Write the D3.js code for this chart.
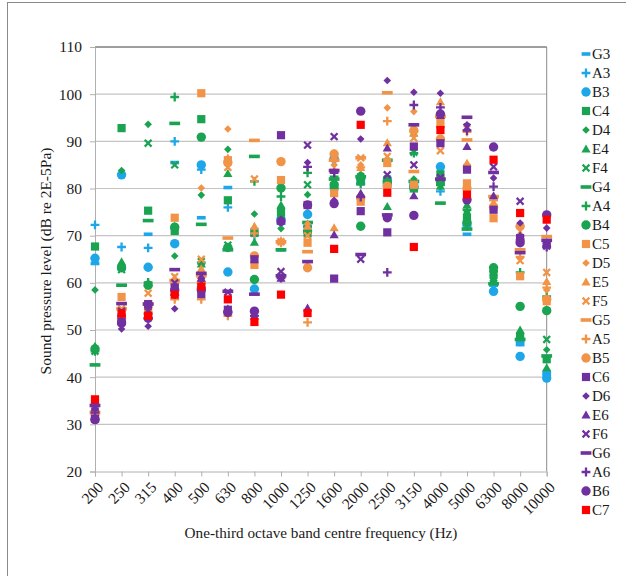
<!DOCTYPE html>
<html>
<head>
<meta charset="utf-8">
<script src="https://cdn.jsdelivr.net/npm/d3@7"></script>
<style>
body { margin: 0; background: #fff; }
</style>
</head>
<body>
<svg id="chart" width="626" height="576"></svg>
<script>
// one-third octave bands (Hz)
var categories = ["200", "250", "315", "400", "500", "630", "800", "1000", "1250", "1600",
                  "2000", "2500", "3150", "4000", "5000", "6300", "8000", "10000"];
var yTicks = [20, 30, 40, 50, 60, 70, 80, 90, 100, 110];

var noteNames = ["G3", "A3", "B3", "C4", "D4", "E4", "F4", "G4", "A4", "B4", "C5", "D5", "E5",
                 "F5", "G5", "A5", "B5", "C6", "D6", "E6", "F6", "G6", "A6", "B6", "C7"];
var noteShapes = ["dash", "plus", "circle", "square", "diamond", "triangle", "x", "longdash",
                  "plus", "circle", "square", "diamond", "triangle", "x", "longdash", "plus",
                  "circle", "square", "diamond", "triangle", "x", "longdash", "plus", "circle", "square"];
var noteColours = ["#1ea7e8", "#1ea7e8", "#1ea7e8",
                   "#1aa350", "#1aa350", "#1aa350", "#1aa350", "#1aa350", "#1aa350", "#1aa350",
                   "#f29447", "#f29447", "#f29447", "#f29447", "#f29447", "#f29447", "#f29447",
                   "#7030a0", "#7030a0", "#7030a0", "#7030a0", "#7030a0", "#7030a0", "#7030a0",
                   "#ff0000"];

// sound pressure level (dB re 2E-5 Pa), one value per band
var G3 = [64.1, 63.0, 70.3, 85.5, 73.8, 80.2, 70.5, 67.0, 72.0, 80.0, 81.0, 82.0, 80.0, 81.0, 70.3, 59.5, 46.9, 41.0];
var A3 = [72.3, 67.6, 67.4, 90.0, 84.0, 76.0, 70.0, 72.5, 72.0, 82.0, 82.0, 81.5, 81.0, 79.4, 72.0, 60.0, 47.5, 40.5];
var B3 = [65.2, 82.9, 63.3, 68.3, 85.0, 62.3, 58.7, 73.5, 74.5, 86.4, 82.0, 81.0, 80.5, 84.6, 72.5, 58.2, 44.4, 39.8];
var C4 = [67.7, 92.8, 75.3, 71.0, 94.7, 77.5, 70.8, 75.0, 70.5, 80.5, 81.5, 81.5, 80.0, 83.0, 73.8, 61.7, 48.5, 43.8];
var D4 = [58.5, 83.8, 93.6, 65.7, 78.6, 88.3, 74.6, 71.5, 78.7, 87.5, 83.0, 82.5, 82.0, 81.0, 75.0, 60.8, 49.2, 45.8];
var E4 = [46.6, 64.5, 60.0, 72.0, 64.0, 83.2, 68.6, 76.5, 72.5, 81.0, 82.0, 76.2, 91.8, 80.5, 76.5, 60.5, 50.0, 42.0];
var F4 = [45.5, 62.8, 89.6, 85.0, 64.5, 68.0, 70.5, 74.5, 80.8, 81.5, 82.5, 82.0, 87.7, 82.0, 74.0, 61.0, 48.8, 48.0];
var G4 = [42.6, 59.5, 73.2, 93.8, 72.4, 67.0, 86.8, 67.0, 72.8, 82.0, 82.5, 86.0, 81.5, 76.9, 71.4, 59.8, 48.0, 44.5];
var A4 = [45.5, 63.5, 60.1, 99.4, 64.3, 67.5, 81.5, 78.3, 83.3, 82.5, 81.0, 80.5, 87.5, 80.7, 75.5, 62.5, 62.2, 57.1];
var B4 = [46.0, 63.2, 59.5, 71.8, 90.9, 67.5, 60.7, 80.1, 71.0, 80.8, 72.0, 81.5, 80.2, 81.5, 72.8, 63.2, 55.0, 54.1];
var C5 = [34.0, 57.0, 54.5, 73.8, 100.2, 86.0, 63.8, 81.8, 68.5, 79.0, 77.2, 85.4, 80.8, 94.0, 81.1, 73.7, 61.4, 56.1];
var D5 = [33.0, 52.5, 55.0, 59.5, 80.1, 92.6, 65.5, 68.5, 72.5, 85.0, 85.0, 97.1, 96.3, 96.0, 93.2, 78.3, 71.5, 58.5];
var E5 = [33.5, 54.0, 55.5, 61.0, 63.0, 86.5, 72.0, 69.0, 72.0, 71.7, 84.5, 89.7, 93.0, 98.4, 85.4, 77.0, 70.5, 60.3];
var F5 = [33.0, 54.5, 57.8, 61.3, 65.0, 84.5, 82.0, 68.7, 70.0, 86.5, 86.5, 86.8, 90.7, 88.0, 84.5, 76.0, 64.7, 62.2];
var G5 = [32.5, 54.5, 55.5, 60.5, 61.5, 69.5, 90.2, 68.7, 66.6, 86.0, 86.5, 100.3, 83.6, 95.3, 90.3, 78.3, 67.0, 69.8];
var A5 = [32.0, 52.0, 53.5, 56.5, 56.5, 53.0, 70.5, 68.5, 51.6, 84.0, 84.5, 94.3, 92.0, 93.0, 92.0, 77.5, 65.5, 59.0];
var B5 = [31.0, 52.5, 53.5, 60.0, 60.0, 85.5, 65.7, 85.7, 63.2, 87.3, 78.0, 80.5, 92.3, 90.5, 80.0, 76.0, 72.0, 56.5];
var C6 = [31.2, 51.8, 55.5, 59.0, 57.6, 54.3, 65.0, 91.3, 76.5, 60.9, 75.2, 70.7, 88.9, 89.6, 84.0, 75.5, 69.5, 68.2];
var D6 = [34.2, 50.2, 50.8, 54.5, 60.5, 54.0, 53.5, 73.5, 85.5, 77.5, 90.5, 102.9, 100.4, 100.2, 93.5, 82.2, 72.7, 71.6];
var E6 = [33.5, 53.5, 54.0, 58.0, 61.0, 54.5, 53.0, 61.0, 54.7, 70.2, 79.0, 88.6, 78.5, 95.5, 88.9, 78.5, 70.0, 68.5];
var F6 = [33.8, 54.0, 55.0, 60.0, 61.5, 58.0, 53.5, 62.4, 89.2, 91.0, 65.0, 82.9, 85.0, 82.3, 93.0, 84.6, 77.3, 67.8];
var G6 = [34.0, 55.6, 55.5, 62.8, 62.0, 58.2, 57.6, 61.5, 64.5, 83.8, 66.0, 74.4, 93.5, 82.0, 95.1, 83.4, 66.4, 69.0];
var A6 = [32.5, 53.0, 52.5, 57.5, 59.0, 54.0, 53.0, 61.0, 84.6, 83.3, 78.2, 62.2, 97.7, 97.2, 92.3, 80.4, 69.0, 67.6];
var B6 = [31.0, 51.5, 52.5, 58.5, 58.5, 53.7, 54.0, 73.0, 76.5, 76.8, 96.4, 73.8, 74.3, 95.8, 77.6, 88.8, 68.5, 74.4];
var C7 = [35.3, 53.5, 53.0, 57.5, 59.2, 56.5, 51.7, 57.5, 53.6, 67.2, 93.5, 79.1, 67.6, 92.4, 78.7, 86.1, 74.8, 73.4];

var seriesValues = [G3, A3, B3, C4, D4, E4, F4, G4, A4, B4, C5, D5, E5, F5, G5, A5, B5, C6, D6, E6, F6, G6, A6, B6, C7];

var serif = "'Liberation Serif', 'Times New Roman', 'DejaVu Serif', serif";
var ink = "#1a1a1a";

var svg = d3.select("#chart");

// outer chart frame
svg.append("rect")
    .attr("x", 7.5).attr("y", 2.5)
    .attr("width", 700).attr("height", 700)
    .attr("fill", "none").attr("stroke", "#8a8a8a").attr("stroke-width", 1);

var plotLeft = 95, plotRight = 546.7, plotTop = 47, plotBottom = 471.5;

var x = d3.scalePoint().domain(categories).range([plotLeft, plotRight]);
var y = d3.scaleLinear().domain([20, 110]).range([plotBottom, plotTop]);

// gridlines
svg.append("g")
    .selectAll("line")
    .data(yTicks.filter(function(d) { return d > 20 && d < 110; }))
    .join("line")
    .attr("x1", plotLeft).attr("x2", plotRight)
    .attr("y1", function(d) { return y(d); }).attr("y2", function(d) { return y(d); })
    .attr("stroke", "#c4c4c4").attr("stroke-width", 1.2);

// plot border: top dark, right grey
svg.append("line")
    .attr("x1", plotLeft).attr("x2", plotRight).attr("y1", y(110)).attr("y2", y(110))
    .attr("stroke", "#3c3c3c").attr("stroke-width", 1);
svg.append("line")
    .attr("x1", plotRight).attr("x2", plotRight).attr("y1", y(110)).attr("y2", plotBottom)
    .attr("stroke", "#8c8c8c").attr("stroke-width", 1);

// y axis
var yAxis = svg.append("g")
    .attr("transform", "translate(" + plotLeft + ",0)")
    .call(d3.axisLeft(y).tickValues(yTicks).tickSize(5).tickPadding(8));
yAxis.select(".domain").attr("stroke", "#b0b0b0");
yAxis.selectAll(".tick line").attr("stroke", "#b0b0b0");
yAxis.selectAll(".tick text")
    .style("font-family", serif).style("font-size", "15.5px").style("fill", ink);

// x axis
var xAxis = svg.append("g")
    .attr("transform", "translate(0," + plotBottom + ")")
    .call(d3.axisBottom(x).tickSize(5).tickPadding(4));
xAxis.select(".domain").attr("stroke", "#b0b0b0");
xAxis.selectAll(".tick line").attr("stroke", "#b0b0b0");
xAxis.selectAll(".tick text")
    .style("font-family", serif).style("font-size", "15.5px").style("fill", ink)
    .attr("text-anchor", "end")
    .attr("y", 0).attr("dy", "0.35em")
    .attr("transform", "translate(5,13) rotate(-45)");

// axis titles
svg.append("text")
    .attr("x", 321).attr("y", 538)
    .attr("text-anchor", "middle")
    .style("font-family", serif).style("font-size", "15.2px").style("fill", ink)
    .text("One-third octave band centre frequency (Hz)");
svg.append("text")
    .attr("transform", "translate(51,261) rotate(-90)")
    .attr("text-anchor", "middle")
    .style("font-family", serif).style("font-size", "15.5px").style("fill", ink)
    .text("Sound pressure level (dB re 2E-5Pa)");

function markerPath(shape) {
    switch (shape) {
        case "square": return "M-4.1,-4.1h8.2v8.2h-8.2z";
        case "circle": return "M4.7,0A4.7,4.7 0 1,1 -4.7,0A4.7,4.7 0 1,1 4.7,0z";
        case "diamond": return "M0,-3.8L3.8,0L0,3.8L-3.8,0z";
        case "triangle": return "M0,-4.4L4.6,3.6L-4.6,3.6z";
        case "dash": return "M-4.4,-1.8h8.8v3.6h-8.8z";
        case "longdash": return "M-5.4,-1.8h10.8v3.6h-10.8z";
        case "plus": return "M-1.15,-4.4h2.3v3.25h3.25v2.3h-3.25v3.25h-2.3v-3.25h-3.25v-2.3h3.25z";
        case "x": return "M-4.2,-2.6L-2.6,-4.2L0,-1.6L2.6,-4.2L4.2,-2.6L1.6,0L4.2,2.6L2.6,4.2L0,1.6L-2.6,4.2L-4.2,2.6L-1.6,0z";
    }
}

// points, later series drawn on top
seriesValues.forEach(function(vals, s) {
    svg.append("g")
        .attr("fill", noteColours[s])
        .selectAll("path")
        .data(vals)
        .join("path")
        .attr("d", markerPath(noteShapes[s]))
        .attr("transform", function(d, i) {
            return "translate(" + x(categories[i]) + "," + y(d) + ")";
        });
});

// legend
var legend = svg.append("g");
var rows = legend.selectAll("g")
    .data(noteNames)
    .join("g")
    .attr("transform", function(d, i) { return "translate(586," + (54 + i * 19) + ")"; });
rows.append("path")
    .attr("d", function(d, i) { return markerPath(noteShapes[i]); })
    .attr("fill", function(d, i) { return noteColours[i]; });
rows.append("text")
    .attr("x", 6).attr("dy", "0.35em")
    .style("font-family", serif).style("font-size", "15px").style("fill", ink)
    .text(function(d) { return d; });
</script>
</body>
</html>
